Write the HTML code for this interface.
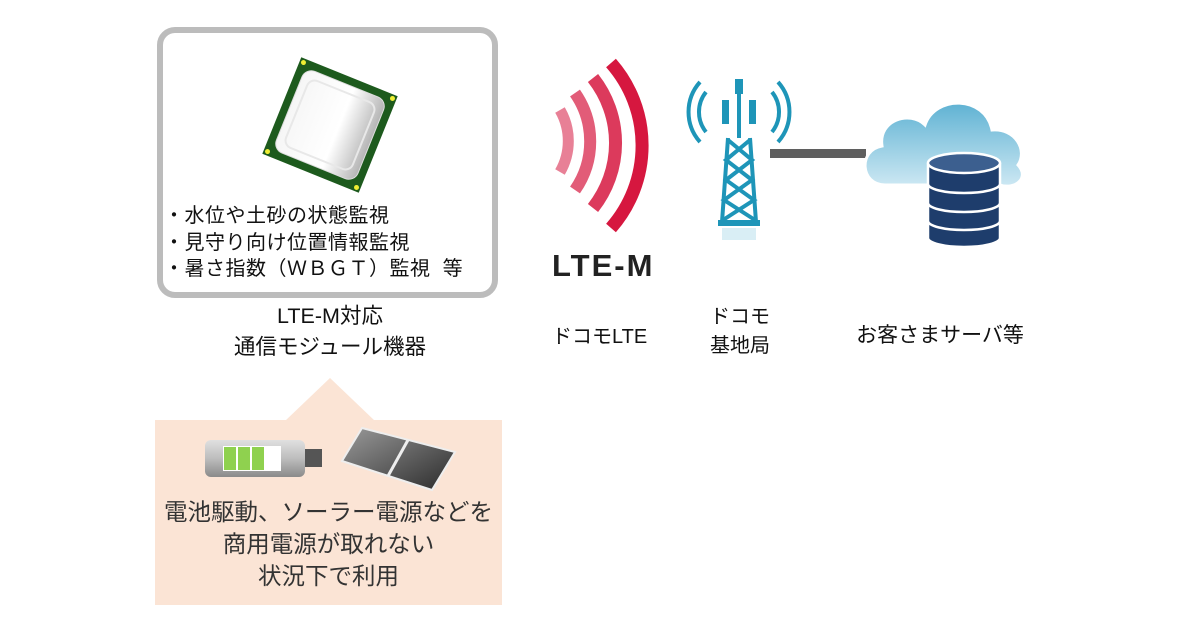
<!DOCTYPE html>
<html><head><meta charset="utf-8"><style>
body{margin:0;width:1200px;height:630px;background:#fff;position:relative;overflow:hidden;font-family:"Liberation Sans","Noto Sans CJK JP",sans-serif;color:#111}
.a{position:absolute;white-space:nowrap}
</style></head><body>
<div class="a" style="left:157px;top:27px;width:329px;height:259px;border:6px solid #bcbcbc;border-radius:18px;background:#fff"></div>
<svg class="a" style="left:0;top:0" width="1200" height="630">
 <defs>
  <linearGradient id="cg" x1="0" y1="0" x2="1" y2="0"><stop offset="0" stop-color="#f6f6f6"/><stop offset=".6" stop-color="#fff"/><stop offset="1" stop-color="#b5b5b5"/></linearGradient>
  <linearGradient id="cl" x1="0" y1="0" x2="0" y2="1"><stop offset="0" stop-color="#5fb2d3"/><stop offset="1" stop-color="#cde8f3"/></linearGradient>
  <linearGradient id="bt" x1="0" y1="0" x2="0" y2="1"><stop offset="0" stop-color="#e0e0e0"/><stop offset=".5" stop-color="#bdbdbd"/><stop offset="1" stop-color="#8a8a8a"/></linearGradient>
  <linearGradient id="sp" x1="0" y1="0" x2="1" y2="1"><stop offset="0" stop-color="#9a9a9a"/><stop offset="1" stop-color="#2a2a2a"/></linearGradient>
 </defs>
 <g transform="translate(330,125) rotate(22)">
  <rect x="-52" y="-52" width="104" height="104" fill="#1d5a1d"/>
  <rect x="-44" y="-44" width="88" height="88" rx="10" fill="url(#cg)" stroke="#ddd"/>
  <rect x="-36" y="-36" width="72" height="72" rx="8" fill="none" stroke="#e8e8e8" stroke-width="2"/>
  <circle cx="-48" cy="-48" r="2.5" fill="#ee3"/><circle cx="48" cy="-48" r="2.5" fill="#ee3"/><circle cx="-48" cy="48" r="2.5" fill="#ee3"/><circle cx="48" cy="48" r="2.5" fill="#ee3"/>
 </g>
 <polygon points="330,378 285,421 375,421" fill="#fbe4d5"/>
 <rect x="155" y="420" width="347" height="185" fill="#fbe4d5"/>
 <rect x="205" y="440" width="100" height="37" rx="6" fill="url(#bt)"/>
 <rect x="223" y="446" width="58" height="25" fill="#fff"/>
 <rect x="224" y="447" width="12" height="23" fill="#8fd14f"/><rect x="238" y="447" width="12" height="23" fill="#8fd14f"/><rect x="252" y="447" width="12" height="23" fill="#8fd14f"/>
 <rect x="305" y="449" width="17" height="18" fill="#555"/>
 <polygon points="362,428 455,452 432,490 342,461" fill="url(#sp)" stroke="#eee" stroke-width="2"/>
 <line x1="408" y1="440" x2="388" y2="476" stroke="#eee" stroke-width="3"/>
 <g fill="none" stroke="#d6173f" stroke-linecap="butt">
  <path d="M560,110 A62,62 0 0 1 560,172" stroke-width="11" opacity=".55"/>
  <path d="M575,93 A85,85 0 0 1 575,190" stroke-width="12" opacity=".7"/>
  <path d="M593,78 A105,105 0 0 1 593,208" stroke-width="13" opacity=".85"/>
  <path d="M611,63 A125,125 0 0 1 611,228" stroke-width="13"/>
 </g>
 <g stroke="#1e95b8" fill="none" stroke-width="4">
  <line x1="739" y1="80" x2="739" y2="138"/>
  <path d="M728,138 L722,222 M750,138 L756,222"/>
  <path d="M728,140 L752,160 L726,180 L754,200 L723,220 M750,140 L726,160 L752,180 L724,200 L755,220"/>
  <path d="M706,92 A32,32 0 0 0 706,132 M700,82 A45,45 0 0 0 700,142 M772,92 A32,32 0 0 1 772,132 M778,82 A45,45 0 0 1 778,142"/>
 </g>
 <rect x="722" y="100" width="7" height="24" fill="#1e95b8"/><rect x="749" y="100" width="7" height="24" fill="#1e95b8"/><rect x="735" y="79" width="8" height="15" fill="#1e95b8"/>
 <rect x="718" y="220" width="42" height="6" fill="#1e95b8"/>
 <rect x="722" y="228" width="34" height="12" fill="#bfe2ee" opacity=".6"/>
 <rect x="770" y="149" width="96" height="9" fill="#5f5f5f"/>
 <path d="M885,185 C860,185 858,150 882,146 C878,120 910,110 925,125 C935,95 985,95 992,130 C1015,128 1028,150 1018,165 C1030,178 1015,190 1000,185 Z" fill="url(#cl)" stroke="#fff" stroke-width="3"/>
 <g stroke="#fff" stroke-width="2.5" fill="#1e3d6c">
  <path d="M928,163 L928,238 A36,9 0 0 0 1000,238 L1000,163"/>
  <ellipse cx="964" cy="163" rx="36" ry="10" fill="#3c5f8f"/>
  <path d="M928,184 A36,9 0 0 0 1000,184 M928,203 A36,9 0 0 0 1000,203 M928,221 A36,9 0 0 0 1000,221" fill="none"/>
 </g>
</svg>
<div class="a" style="left:164px;top:203px;font-size:20px;line-height:26.5px;letter-spacing:0.5px">・水位や土砂の状態監視<br>・見守り向け位置情報監視<br>・暑さ指数（ＷＢＧＴ）監視&nbsp;&nbsp;等</div>
<div class="a" style="left:190px;top:301px;width:280px;text-align:center;font-size:21.5px;line-height:31px">LTE-M対応<br>通信モジュール機器</div>
<div class="a" style="left:150px;top:496px;width:357px;text-align:center;font-size:23.5px;line-height:32px;color:#333">電池駆動、ソーラー電源などを<br>商用電源が取れない<br>状況下で利用</div>
<div class="a" style="left:552px;top:248px;font-size:31px;font-weight:bold;color:#222;letter-spacing:2px">LTE-M</div>
<div class="a" style="left:552px;top:320px;font-size:20px">ドコモLTE</div>
<div class="a" style="left:690px;top:303px;width:100px;text-align:center;font-size:20px;line-height:29px">ドコモ<br>基地局</div>
<div class="a" style="left:845px;top:319px;width:190px;text-align:center;font-size:21px">お客さまサーバ等</div>
</body></html>
